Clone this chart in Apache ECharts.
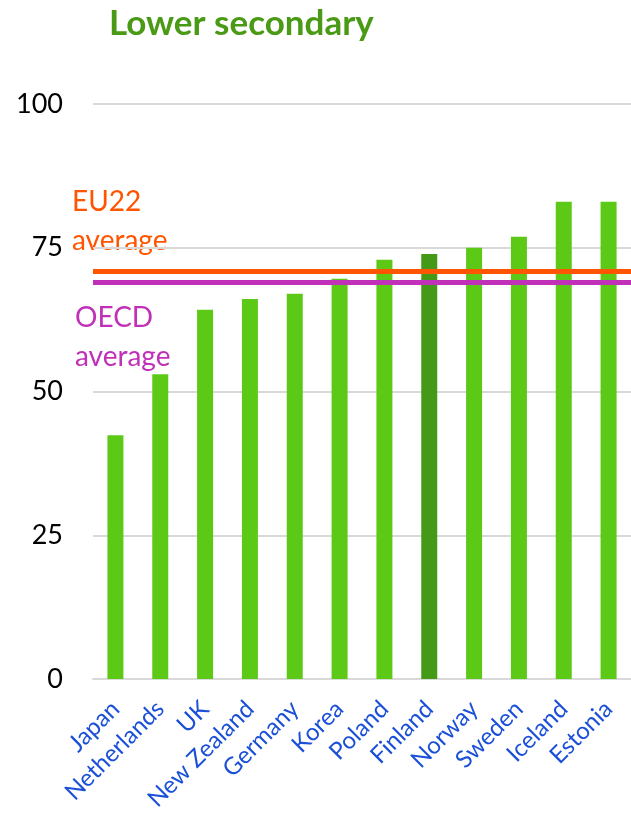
<!DOCTYPE html>
<html>
<head>
<meta charset="utf-8">
<script src="https://cdn.jsdelivr.net/npm/echarts@6/dist/echarts.min.js"></script>
<style>
  html, body { margin: 0; padding: 0; background: #fff; }
  #chart { width: 631px; height: 815px; }
</style>
</head>
<body>
<div id="chart"></div>
<script>
const countries = ['Japan', 'Netherlands', 'UK', 'New Zealand', 'Germany', 'Korea', 'Poland', 'Finland', 'Norway', 'Sweden', 'Iceland', 'Estonia'];
const values = [42.4, 53, 64.2, 66.1, 67, 69.6, 72.9, 73.9, 75, 76.9, 83, 83];
const highlight = 'Finland';
const eu22Average = 71;
const oecdAverage = 69;
const yTicks = [0, 25, 50, 75, 100];

const font = 'Lato, "Open Sans", sans-serif';
const myChart = echarts.init(document.getElementById('chart'), null, { renderer: 'canvas' });

const option = {
  animation: false,
  title: {
    text: 'Lower secondary',
    left: 104,
    top: 1,
    textStyle: { color: '#4a9a16', fontSize: 35, fontWeight: 'bold', fontFamily: font }
  },
  grid: { left: 93, right: -9, top: 104, bottom: 136 },
  xAxis: {
    type: 'category',
    data: countries,
    axisLine: { lineStyle: { color: '#d9d9d9', width: 2 } },
    axisTick: { show: false },
    axisLabel: {
      rotate: 45,
      interval: 0,
      margin: 26,
      color: '#1a4fd8',
      fontSize: 24,
      fontFamily: font
    }
  },
  yAxis: {
    type: 'value',
    min: yTicks[0],
    max: yTicks[yTicks.length - 1],
    interval: 25,
    axisLine: { show: false },
    axisTick: { show: false },
    splitLine: { lineStyle: { color: '#d9d9d9', width: 2 } },
    axisLabel: { color: '#000', fontSize: 27, fontFamily: font, margin: 30 }
  },
  graphic: [
    { type: 'text', left: 72, top: 182, style: { text: 'EU22\naverage', fill: '#ff5500', fontSize: 28, lineHeight: 39, fontFamily: font } },
    { type: 'text', left: 75, top: 298, style: { text: 'OECD\naverage', fill: '#c030b8', fontSize: 28, lineHeight: 39, fontFamily: font } }
  ],
  series: [
    {
      type: 'bar',
      barWidth: 16,
      data: values.map((v, i) => ({
        value: v,
        itemStyle: { color: countries[i] === highlight ? '#449a16' : '#5cc916' }
      }))
    },
    {
      type: 'line',
      data: [],
      z: 5,
      markLine: {
        silent: true,
        symbol: 'none',
        label: { show: false },
        data: [
          { yAxis: eu22Average, lineStyle: { color: '#ff5500', width: 5, type: 'solid' } },
          { yAxis: oecdAverage, lineStyle: { color: '#c030b8', width: 5, type: 'solid' } }
        ]
      }
    }
  ]
};

myChart.setOption(option);
window.addEventListener('resize', myChart.resize);
</script>
</body>
</html>
